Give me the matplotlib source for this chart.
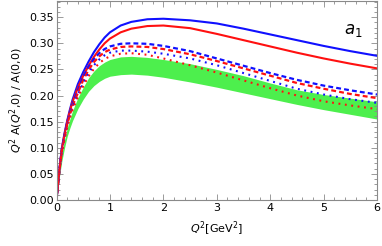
import matplotlib
matplotlib.use("Agg")
import matplotlib.pyplot as plt
from matplotlib.ticker import MultipleLocator

# values
q2 = [0, 0.05, 0.1, 0.15, 0.2, 0.25, 0.3, 0.4, 0.5, 0.6, 0.7, 0.8, 0.9, 1.0,
      1.2, 1.4, 1.7, 2.0, 2.5, 3.0, 3.5, 4.0, 4.5, 5.0, 5.5, 6.0]
blue_solid = [0, 0.055, 0.100, 0.128, 0.152, 0.173, 0.192, 0.222, 0.245, 0.265, 0.283,
              0.298, 0.311, 0.321, 0.334, 0.341, 0.346, 0.347, 0.344, 0.338, 0.328,
              0.317, 0.306, 0.295, 0.285, 0.276]
red_solid = [0, 0.054, 0.098, 0.126, 0.150, 0.170, 0.188, 0.215, 0.238, 0.257, 0.274,
             0.288, 0.300, 0.309, 0.321, 0.328, 0.333, 0.334, 0.329, 0.318, 0.306,
             0.294, 0.282, 0.271, 0.261, 0.252]
blue_dash = [0, 0.054, 0.097, 0.123, 0.148, 0.167, 0.184, 0.210, 0.236, 0.255, 0.270,
             0.281, 0.289, 0.294, 0.299, 0.300, 0.299, 0.295, 0.285, 0.271, 0.257,
             0.243, 0.230, 0.219, 0.210, 0.202]
red_dash = [0, 0.053, 0.095, 0.121, 0.145, 0.163, 0.180, 0.205, 0.230, 0.249, 0.264,
            0.275, 0.283, 0.288, 0.293, 0.294, 0.293, 0.289, 0.279, 0.266, 0.252,
            0.238, 0.224, 0.213, 0.203, 0.195]
blue_dot = [0, 0.053, 0.094, 0.119, 0.143, 0.161, 0.177, 0.202, 0.224, 0.243, 0.258,
            0.269, 0.277, 0.282, 0.286, 0.286, 0.284, 0.280, 0.271, 0.258, 0.243,
            0.228, 0.213, 0.202, 0.193, 0.186]
red_dot = [0, 0.052, 0.092, 0.117, 0.140, 0.157, 0.173, 0.197, 0.218, 0.237, 0.251,
           0.262, 0.270, 0.275, 0.280, 0.281, 0.278, 0.271, 0.258, 0.244, 0.229,
           0.214, 0.200, 0.189, 0.181, 0.174]
band_hi = [0, 0.050, 0.090, 0.115, 0.138, 0.155, 0.171, 0.196, 0.216, 0.234, 0.247,
           0.257, 0.264, 0.269, 0.274, 0.275, 0.273, 0.269, 0.261, 0.250, 0.238,
           0.224, 0.211, 0.202, 0.195, 0.188]
band_lo = [0, 0.042, 0.075, 0.100, 0.122, 0.138, 0.152, 0.175, 0.193, 0.208, 0.219,
           0.227, 0.233, 0.237, 0.240, 0.241, 0.239, 0.235, 0.226, 0.216, 0.205,
           0.194, 0.183, 0.173, 0.164, 0.155]

BLUE, RED, GREEN, FRAME = "#1010ff", "#ff1010", "#4def4d", "#8a8a8a"

fig = plt.figure(figsize=(3.82, 2.46), dpi=100)
ax = fig.add_axes([0.148, 0.187, 0.839, 0.809])

ax.fill_between(q2, band_lo, band_hi, color=GREEN, lw=0)
ax.plot(q2, blue_solid, color=BLUE, lw=1.5)
ax.plot(q2, red_solid, color=RED, lw=1.5)
ax.plot(q2, blue_dash, color=BLUE, lw=1.6, dashes=(2.2, 1.4))
ax.plot(q2, red_dash, color=RED, lw=1.6, dashes=(2.2, 1.4))
ax.plot(q2, blue_dot, color=BLUE, lw=1.5, dashes=(0.9, 2.2))
ax.plot(q2, red_dot, color=RED, lw=1.5, dashes=(0.9, 2.2))

ax.set_xlim(0, 6)
ax.set_ylim(0, 0.381)
ax.xaxis.set_major_locator(MultipleLocator(1))
ax.xaxis.set_minor_locator(MultipleLocator(0.2))
ax.yaxis.set_major_locator(MultipleLocator(0.05))
ax.yaxis.set_minor_locator(MultipleLocator(0.01))
ax.yaxis.set_major_formatter(plt.FuncFormatter(lambda v, p: f"{v:.2f}"))
ax.tick_params(which="both", direction="in", top=True, right=True,
               color=FRAME, width=0.6, labelsize=8, pad=2)
ax.tick_params(which="major", length=4)
ax.tick_params(which="minor", length=2)
for s in ax.spines.values():
    s.set_color(FRAME)
    s.set_linewidth(0.8)

ax.set_xlabel(r"$Q^2$[GeV$^2$]", fontsize=8, labelpad=5)
ax.set_ylabel(r"$Q^2$ A($Q^2$,0) / A(0,0)", fontsize=8, labelpad=3)
ax.text(5.55, 0.325, r"$a_1$", fontsize=12, ha="center", va="center")

fig.savefig("out.png", dpi=100)
